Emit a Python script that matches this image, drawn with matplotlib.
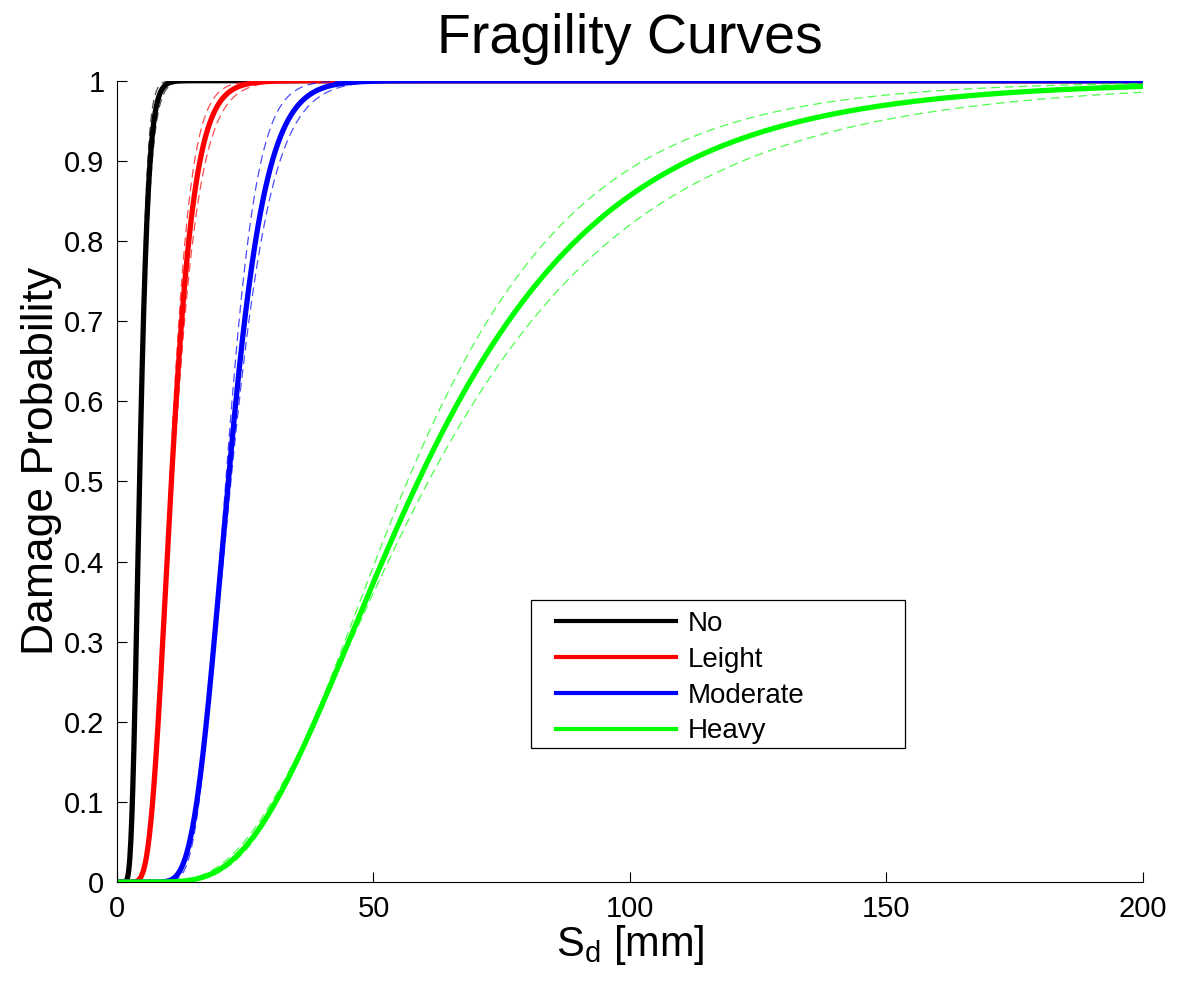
import math
import numpy as np
import matplotlib
matplotlib.use("Agg")
import matplotlib.pyplot as plt
from matplotlib.patches import Rectangle

plt.rcParams['font.family'] = ['Liberation Sans', 'DejaVu Sans']
plt.rcParams['mathtext.default'] = 'regular'

# damage states and lognormal fragility parameters (median Sd in mm, dispersion beta)
states = ["No", "Leight", "Moderate", "Heavy"]
median_sd = [4.4, 10.6, 21.7, 58.7]
beta = [0.30, 0.33, 0.26, 0.50]

# confidence bounds (left / right dashed curves)
median_lo = [4.3, 10.3, 21.2, 56.6]
beta_lo = [0.26, 0.30, 0.22, 0.464]
median_hi = [4.5, 10.9, 22.2, 60.7]
beta_hi = [0.33, 0.36, 0.28, 0.545]

sd_max = 200.0
y_ticks = [0, 0.1, 0.2, 0.3, 0.4, 0.5, 0.6, 0.7, 0.8, 0.9, 1]
y_ticklabels = ["0", "0.1", "0.2", "0.3", "0.4", "0.5", "0.6", "0.7", "0.8", "0.9", "1"]
x_ticks = [0, 50, 100, 150, 200]

colors = ["#000000", "#ff0000", "#0000ff", "#00ff00"]

_erf = np.vectorize(math.erf)


def lognorm_cdf(x, m, b):
    x = np.maximum(x, 1e-9)
    return 0.5 * (1.0 + _erf(np.log(x / m) / (b * math.sqrt(2.0))))


sd = np.linspace(0, sd_max, 2001)

fig = plt.figure(figsize=(11.77, 9.83), dpi=100)
ax = fig.add_axes([0.0994, 0.1027, 0.8717, 0.8152])

for i in range(len(states)):
    ax.plot(sd, lognorm_cdf(sd, median_sd[i], beta[i]), color=colors[i],
            linewidth=3.8, label=states[i])
    for m, b in ((median_lo[i], beta_lo[i]), (median_hi[i], beta_hi[i])):
        ax.plot(sd, lognorm_cdf(sd, m, b), color=colors[i], linewidth=0.9,
                alpha=0.7, linestyle=(0, (7, 4)))

ax.set_xlim(0, sd_max)
ax.set_ylim(0, 1)
ax.set_xticks(x_ticks)
ax.set_xticklabels([str(t) for t in x_ticks])
ax.set_yticks(y_ticks)
ax.set_yticklabels(y_ticklabels)
ax.tick_params(direction="in", length=7, width=0.8, labelsize=21, pad=9)
ax.spines["top"].set_visible(False)
ax.spines["right"].set_visible(False)
for s in ("left", "bottom"):
    ax.spines[s].set_linewidth(0.8)

ax.set_title("Fragility Curves", fontsize=40, pad=20)
ax.set_xlabel(r"$S_d$ [mm]", fontsize=30, labelpad=0)
ax.set_ylabel("Damage Probability", fontsize=32)
ax.yaxis.set_label_coords(-0.054, 0.526)

# legend box drawn as a plain rectangle, entries placed inside it
ax.add_patch(Rectangle((0.404, 0.167), 0.364, 0.185, transform=ax.transAxes,
                       facecolor="white", edgecolor="black", linewidth=0.9,
                       zorder=4.5))
leg = ax.legend(loc="upper left", bbox_to_anchor=(0.428, 0.338),
                borderaxespad=0, borderpad=0, fontsize=20, handlelength=4.3,
                handletextpad=0.45, labelspacing=0.35, frameon=False)
for line in leg.get_lines():
    line.set_linewidth(3.0)

fig.savefig("out.png", dpi=100)
